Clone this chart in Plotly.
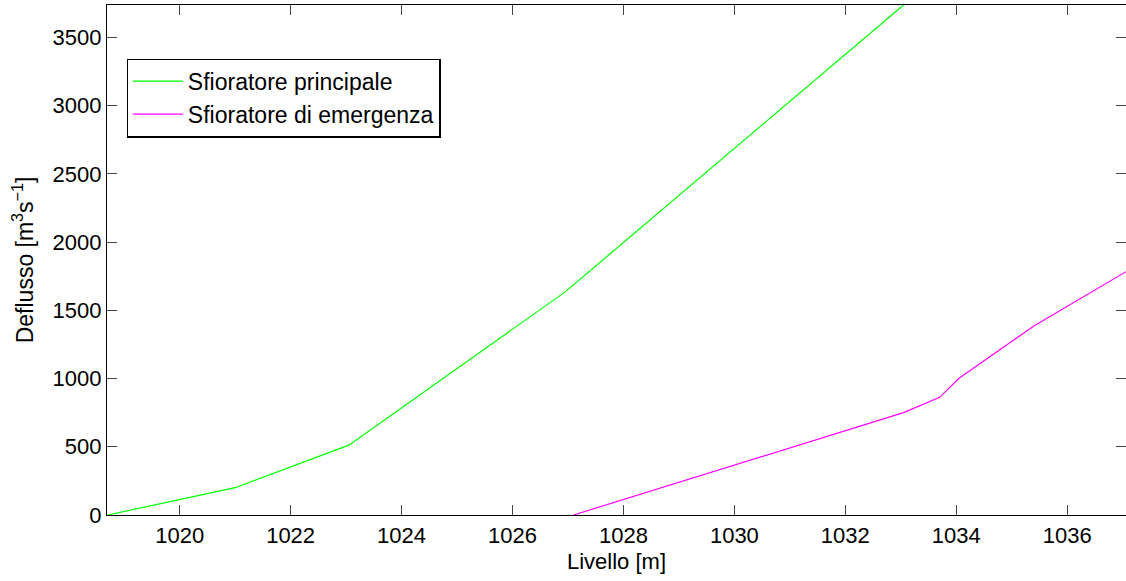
import plotly.graph_objects as go

# Data
livello_principale = [1018.7, 1021.0, 1023.05, 1026.95, 1033.05]
deflusso_principale = [0, 200, 512, 1635, 3737]

livello_emergenza = [1027.1, 1033.05, 1033.7, 1034.05, 1035.4, 1037.06]
deflusso_emergenza = [0, 750, 862, 1002, 1385, 1783]

x_ticks = [1020, 1022, 1024, 1026, 1028, 1030, 1032, 1034, 1036]
y_ticks = [0, 500, 1000, 1500, 2000, 2500, 3000, 3500]

FONT = "Liberation Sans, Arial, Helvetica, sans-serif"

fig = go.Figure()
fig.add_trace(go.Scatter(x=livello_principale, y=deflusso_principale, mode="lines",
                         name="Sfioratore principale",
                         line=dict(color="#00ff00", width=1.2)))
fig.add_trace(go.Scatter(x=livello_emergenza, y=deflusso_emergenza, mode="lines",
                         name="Sfioratore di emergenza",
                         line=dict(color="#ff00ff", width=1.2)))

fig.update_layout(
    width=1126, height=581,
    margin=dict(l=107, r=0, t=5, b=66),
    paper_bgcolor="white", plot_bgcolor="white",
    font=dict(family=FONT, size=22, color="black"),
    showlegend=True,
    legend=dict(x=0.0193, y=0.895, xanchor="left", yanchor="top",
                bgcolor="white", bordercolor="black", borderwidth=1.2,
                font=dict(size=23), itemwidth=50, tracegroupgap=0),
    xaxis=dict(range=[1018.69, 1037.06], tickvals=x_ticks,
               ticktext=[str(v) for v in x_ticks],
               ticks="inside", ticklen=10, tickcolor="#444", tickwidth=1,
               showline=True, linecolor="black", linewidth=1.2, mirror="allticks",
               showgrid=False, zeroline=False,
               title=dict(text="Livello [m]", standoff=7, font=dict(size=22))),
    yaxis=dict(range=[0, 3737], tickvals=y_ticks,
               ticktext=[str(v) for v in y_ticks],
               ticks="inside", ticklen=10, tickcolor="#444", tickwidth=1,
               showline=True, linecolor="black", linewidth=1.2, mirror="allticks",
               showgrid=False, zeroline=False,
               title=dict(text="Deflusso [m<sup>3</sup>s<sup>−1</sup>]", standoff=12,
                          font=dict(size=23))),
)

fig.write_html("out.html")
